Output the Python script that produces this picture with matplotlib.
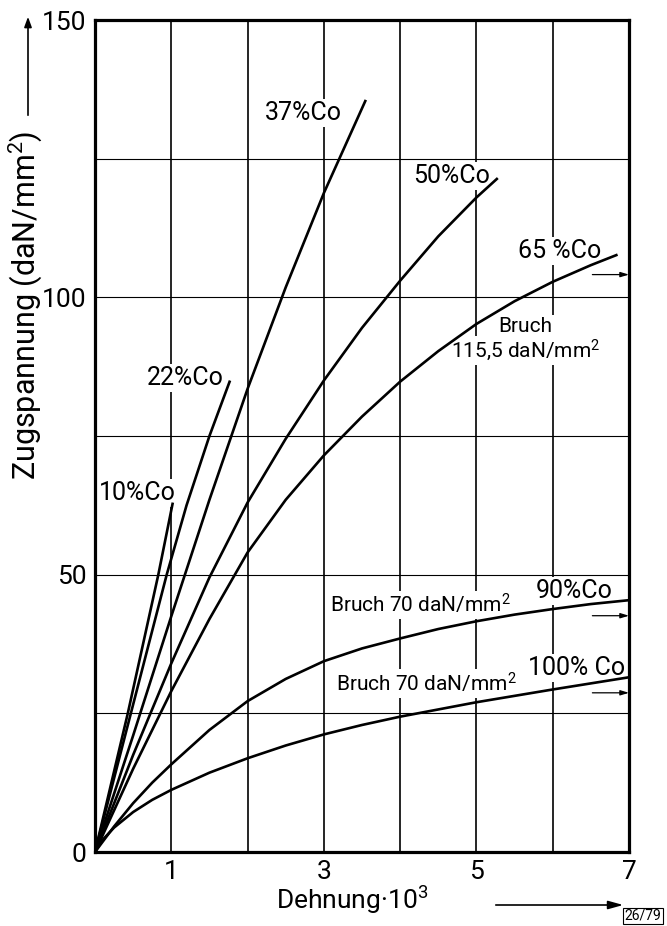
import matplotlib
matplotlib.use("Agg")
import matplotlib.pyplot as plt
from matplotlib.patches import FancyArrowPatch

plt.rcParams['font.family'] = ['Roboto', 'DejaVu Sans']

# ---- data ----
strain_10 = [0, 0.43, 0.83, 1.02]
stress_10 = [0, 25, 50, 63]

strain_22 = [0, 0.47, 0.94, 1.2, 1.5, 1.77]
stress_22 = [0, 25, 50, 62.5, 75, 85]

strain_37 = [0, 0.5, 1.0, 1.5, 2.0, 2.5, 3.0, 3.55]
stress_37 = [0, 21, 42.5, 63.5, 83.5, 101.8, 118.8, 135.6]

strain_50 = [0, 0.5, 1.0, 1.5, 2.0, 2.5, 3.0, 3.5, 4.0, 4.5, 5.0, 5.28]
stress_50 = [0, 17.5, 34, 49.5, 63, 74.5, 85, 94.5, 103, 111, 118, 121.5]

strain_65 = [0, 0.5, 1.0, 1.5, 2.0, 2.5, 3.0, 3.5, 4.0, 4.5, 5.0, 5.5, 6.0, 6.5, 6.85]
stress_65 = [0, 15, 29, 42, 54, 63.5, 71.5, 78.5, 84.8, 90.3, 95.2, 99.3, 102.8, 105.8, 107.7]

strain_90 = [0, 0.25, 0.5, 0.75, 1.0, 1.5, 2.0, 2.5, 3.0, 3.5, 4.0, 4.5, 5.0, 5.5, 6.0, 6.5, 7.0]
stress_90 = [0, 4.6, 8.8, 12.5, 15.8, 22.0, 27.2, 31.2, 34.4, 36.7, 38.5, 40.2, 41.6, 42.8, 43.8, 44.7, 45.4]

strain_100 = [0, 0.1, 0.25, 0.5, 0.75, 1.0, 1.5, 2.0, 2.5, 3.0, 3.5, 4.0, 5.0, 6.0, 7.0]
stress_100 = [0, 2.2, 4.4, 7.2, 9.4, 11.2, 14.3, 16.9, 19.2, 21.2, 22.9, 24.4, 27.0, 29.3, 31.5]

curves = [(strain_10, stress_10), (strain_22, stress_22), (strain_37, stress_37),
          (strain_50, stress_50), (strain_65, stress_65), (strain_90, stress_90),
          (strain_100, stress_100)]

curve_labels = ['10%Co', '22%Co', '37%Co', '50%Co', '65 %Co', '90%Co', '100% Co']
label_x = [0.55, 1.18, 2.73, 4.67, 6.09, 6.28, 6.31]
label_y = [63.5, 84.2, 132.0, 120.6, 107.1, 45.8, 31.9]

bruch_texts = ['Bruch', '115,5 daN/mm$\\mathregular{^{2}}$',
               'Bruch 70 daN/mm$\\mathregular{^{2}}$', 'Bruch 70 daN/mm$\\mathregular{^{2}}$']
bruch_x = [5.64, 5.64, 4.27, 4.34]
bruch_y = [93.8, 89.1, 43.1, 28.9]

# break values beyond the end of the axis (arrows at right edge)
arrow_y = [104.1, 42.6, 28.7]

x_ticks = [0, 1, 2, 3, 4, 5, 6, 7]
x_tick_labels = ['', '1', '', '3', '', '5', '', '7']
y_ticks = [0, 25, 50, 75, 100, 125, 150]
y_tick_labels = ['0', '', '50', '', '100', '', '150']

# ---- figure ----
fig = plt.figure(figsize=(6.67, 9.26), dpi=100)
W, H = 667, 926
ax = fig.add_axes([95 / W, 1 - 852 / H, (629 - 95) / W, (852 - 20) / H])
ax.set_xlim(0, 7)
ax.set_ylim(0, 150)

ax.set_xticks(x_ticks)
ax.set_xticklabels(x_tick_labels, fontsize=19)
ax.set_yticks(y_ticks)
ax.set_yticklabels(y_tick_labels, fontsize=19)
ax.tick_params(length=0)
ax.tick_params(axis='x', pad=6)
ax.tick_params(axis='y', pad=6)

for xv in x_ticks[1:-1]:
    ax.axvline(xv, color='black', lw=1.2, zorder=1)
for yv in y_ticks[1:-1]:
    ax.axhline(yv, color='black', lw=0.8, zorder=1)

for s in ax.spines.values():
    s.set_linewidth(2.3)

for xs, ys in curves:
    ax.plot(xs, ys, color='black', lw=1.9, zorder=3, solid_capstyle='butt',
            solid_joinstyle='round')

box = dict(facecolor='white', edgecolor='none', pad=1.5)
for t, xv, yv in zip(curve_labels, label_x, label_y):
    ax.text(xv, yv, t, fontsize=18, ha='center', va='baseline', zorder=2, bbox=box)

for t, xv, yv in zip(bruch_texts, bruch_x, bruch_y):
    ax.text(xv, yv, t, fontsize=15, ha='center', va='baseline', zorder=2, bbox=box)

for yv in arrow_y:
    ax.annotate('', xy=(7.0, yv), xytext=(6.52, yv),
                arrowprops=dict(arrowstyle='-|>,head_length=0.5,head_width=0.15',
                                color='black', lw=0.9, shrinkA=0, shrinkB=0),
                zorder=4)

# axis labels with arrows
fig.text(25 / W, 1 - 305 / H, 'Zugspannung (daN/mm$\\mathregular{^{2}}$)',
         rotation=90, fontsize=22, ha='center', va='center')
fig.add_artist(FancyArrowPatch(
    (28 / W, 1 - 118 / H), (28 / W, 1 - 14 / H), transform=fig.transFigure,
    arrowstyle='-|>,head_length=6,head_width=2.2', color='black', lw=1.2,
    mutation_scale=1))

fig.text(352 / W, 1 - 900 / H, 'Dehnung·10$\\mathregular{^{3}}$',
         fontsize=19, ha='center', va='center')
fig.add_artist(FancyArrowPatch(
    (493 / W, 1 - 905 / H), (626 / W, 1 - 905 / H), transform=fig.transFigure,
    arrowstyle='-|>,head_length=9,head_width=2.5', color='black', lw=1.2,
    mutation_scale=1))

fig.text(643 / W, 1 - 916 / H, '26/79', fontsize=10, ha='center', va='center',
         bbox=dict(facecolor='white', edgecolor='black', lw=0.8, pad=1))

fig.savefig('out.png', dpi=100)
